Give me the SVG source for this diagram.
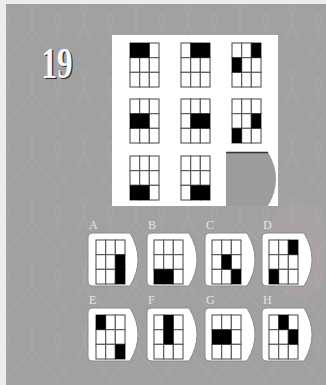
<svg xmlns="http://www.w3.org/2000/svg" width="326" height="385" viewBox="0 0 326 385">
<style>
.cell{fill:#fff;stroke:#555;stroke-width:1.1}
.blk{fill:#000}
.card{fill:#fff;stroke:#8a8a8a;stroke-width:1}
.lbl{font-family:"Liberation Serif",serif;font-size:12px;fill:#e6e6e6}
.orn{fill:none;stroke:#b2b2b2;stroke-width:1.2;opacity:0.45}
</style>
<defs>
<pattern id="lat" x="6" y="4" width="52" height="64" patternUnits="userSpaceOnUse">
<path class="orn" d="M0,64 C0,40 26,40 26,16 C26,40 52,40 52,64"/>
<path class="orn" d="M26,16 C26,6 20,0 26,-6 C32,0 26,6 26,16"/>
<path class="orn" d="M0,32 C0,22 -6,16 0,10 C6,16 0,22 0,32"/>
<path class="orn" d="M52,32 C52,22 46,16 52,10 C58,16 52,22 52,32"/>
</pattern>
<g id="grid">
<rect class="cell" x="0" y="0" width="9.67" height="14.67"/>
<rect class="cell" x="9.67" y="0" width="9.67" height="14.67"/>
<rect class="cell" x="19.33" y="0" width="9.67" height="14.67"/>
<rect class="cell" x="0" y="14.67" width="9.67" height="14.67"/>
<rect class="cell" x="9.67" y="14.67" width="9.67" height="14.67"/>
<rect class="cell" x="19.33" y="14.67" width="9.67" height="14.67"/>
<rect class="cell" x="0" y="29.33" width="9.67" height="14.67"/>
<rect class="cell" x="9.67" y="29.33" width="9.67" height="14.67"/>
<rect class="cell" x="19.33" y="29.33" width="9.67" height="14.67"/>
</g>
<path id="cardshape" class="card" d="M5,0 H42 Q58,26.5 42,53 H5 Q0,53 0,48 V5 Q0,0 5,0 Z"/>
</defs>
<rect x="0" y="0" width="326" height="385" fill="#ececec"/>
<rect x="6" y="4" width="320" height="381" fill="#a1a1a1"/>
<rect x="6" y="4" width="320" height="381" fill="url(#lat)"/>
<ellipse cx="298" cy="250" rx="34" ry="48" fill="#c9a6b0" opacity="0.18"/>

<g id="title">
<text x="42.8" y="78.5" font-family="Liberation Serif,serif" font-size="44" font-weight="bold" textLength="31" lengthAdjust="spacingAndGlyphs" fill="#2a2a2a">19</text>
<text x="41.5" y="77.5" font-family="Liberation Serif,serif" font-size="44" font-weight="bold" textLength="31" lengthAdjust="spacingAndGlyphs" fill="#fafafa">19</text>
</g>

<g id="matrix">
<rect x="112" y="35" width="166" height="171" fill="#fff"/>
<g id="m11" transform="translate(130,43)"><use href="#grid"/><rect class="blk" x="0" y="0" width="19.33" height="14.67"/></g>
<g id="m12" transform="translate(181,43)"><use href="#grid"/><rect class="blk" x="9.67" y="0" width="19.33" height="14.67"/></g>
<g id="m13" transform="translate(232,43)"><use href="#grid"/><rect class="blk" x="19.33" y="0" width="9.67" height="14.67"/><rect class="blk" x="0" y="14.67" width="9.67" height="14.67"/></g>
<g id="m21" transform="translate(130,99)"><use href="#grid"/><rect class="blk" x="0" y="14.67" width="19.33" height="14.67"/></g>
<g id="m22" transform="translate(181,99)"><use href="#grid"/><rect class="blk" x="9.67" y="14.67" width="19.33" height="14.67"/></g>
<g id="m23" transform="translate(232,99)"><use href="#grid"/><rect class="blk" x="19.33" y="14.67" width="9.67" height="14.67"/><rect class="blk" x="0" y="29.33" width="9.67" height="14.67"/></g>
<g id="m31" transform="translate(130,156)"><use href="#grid"/><rect class="blk" x="0" y="29.33" width="19.33" height="14.67"/></g>
<g id="m32" transform="translate(181,156)"><use href="#grid"/><rect class="blk" x="9.67" y="29.33" width="19.33" height="14.67"/></g>
<g id="m33">
<path d="M226,152 H268 Q284,179 268,206 H226 Z" fill="#9c9c9c"/>
<line x1="226" y1="152.5" x2="268" y2="152.5" stroke="#333" stroke-width="1.5"/>
</g>
</g>

<g id="optA"><text class="lbl" x="89" y="229">A</text><use href="#cardshape" transform="translate(88,233)"/>
<g transform="translate(96,240)"><use href="#grid"/><rect class="blk" x="19.33" y="14.67" width="9.67" height="29.33"/></g></g>
<g id="optB"><text class="lbl" x="148" y="229">B</text><use href="#cardshape" transform="translate(147,233)"/>
<g transform="translate(154,240)"><use href="#grid"/><rect class="blk" x="0" y="29.33" width="19.33" height="14.67"/></g></g>
<g id="optC"><text class="lbl" x="206" y="229">C</text><use href="#cardshape" transform="translate(205,233)"/>
<g transform="translate(212,240)"><use href="#grid"/><rect class="blk" x="9.67" y="14.67" width="9.67" height="14.67"/><rect class="blk" x="19.33" y="29.33" width="9.67" height="14.67"/></g></g>
<g id="optD"><text class="lbl" x="263" y="229">D</text><use href="#cardshape" transform="translate(262,233)"/>
<g transform="translate(269,240)"><use href="#grid"/><rect class="blk" x="19.33" y="0" width="9.67" height="14.67"/><rect class="blk" x="0" y="29.33" width="9.67" height="14.67"/></g></g>

<g id="optE"><text class="lbl" x="89" y="304">E</text><use href="#cardshape" transform="translate(88,308)"/>
<g transform="translate(96,315)"><use href="#grid"/><rect class="blk" x="0" y="0" width="9.67" height="14.67"/><rect class="blk" x="19.33" y="29.33" width="9.67" height="14.67"/></g></g>
<g id="optF"><text class="lbl" x="148" y="304">F</text><use href="#cardshape" transform="translate(147,308)"/>
<g transform="translate(154,315)"><use href="#grid"/><rect class="blk" x="9.67" y="0" width="9.67" height="29.33"/></g></g>
<g id="optG"><text class="lbl" x="206" y="304">G</text><use href="#cardshape" transform="translate(205,308)"/>
<g transform="translate(212,315)"><use href="#grid"/><rect class="blk" x="0" y="14.67" width="19.33" height="14.67"/></g></g>
<g id="optH"><text class="lbl" x="263" y="304">H</text><use href="#cardshape" transform="translate(262,308)"/>
<g transform="translate(269,315)"><use href="#grid"/><rect class="blk" x="9.67" y="0" width="9.67" height="14.67"/><rect class="blk" x="19.33" y="14.67" width="9.67" height="14.67"/></g></g>
</svg>
